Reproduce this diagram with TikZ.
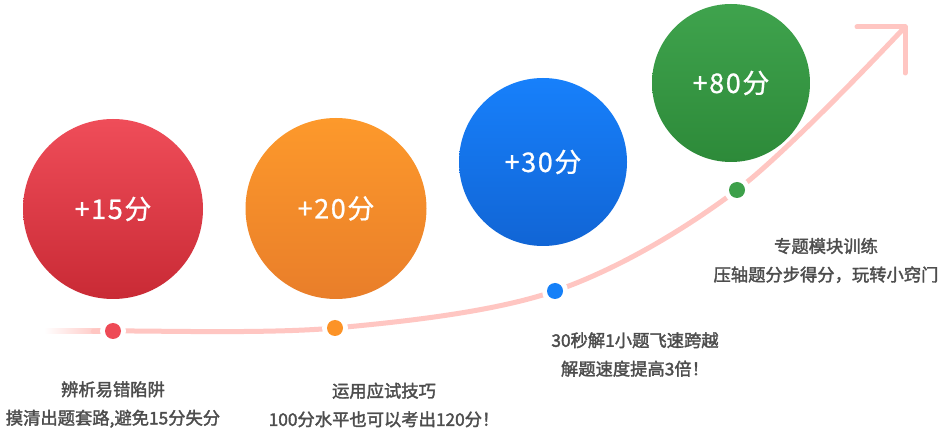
\documentclass[tikz,border=0pt]{standalone}
\usepackage{fontspec}
\setmainfont{Noto Sans CJK SC}
\newfontfamily\lblfont[FakeBold=2]{Noto Sans CJK SC}
\newfontfamily\ballfont[FakeBold=0.8, LetterSpace=6]{Noto Sans CJK SC}
\usetikzlibrary{calc}
\definecolor{pinkline}{HTML}{FFC6C2}
\definecolor{txtgray}{HTML}{4D4D4D}
\definecolor{redtop}{HTML}{EF4D59}
\definecolor{redbot}{HTML}{C92A35}
\definecolor{orgtop}{HTML}{FD992B}
\definecolor{orgbot}{HTML}{E97E2A}
\definecolor{blutop}{HTML}{1780FB}
\definecolor{blubot}{HTML}{1165D5}
\definecolor{grntop}{HTML}{3FA34D}
\definecolor{grnmid}{HTML}{4CA95B}
\definecolor{grnbot}{HTML}{2D8A39}
\definecolor{reddot}{HTML}{EE4A56}
\definecolor{orgdot}{HTML}{FC9327}
\definecolor{bludot}{HTML}{1580F8}
\definecolor{grndot}{HTML}{3DA04A}
\tikzset{
  ball/.style={circle, inner sep=0pt, text=white, font=\ballfont\fontsize{27}{30}\selectfont},
  halo/.style={circle, fill=white, minimum size=26pt, inner sep=0pt},
  dotmark/.style={circle, fill=#1, minimum size=16pt, inner sep=0pt},
  lbl/.style={text=txtgray, font=\lblfont\fontsize{17.3}{28.5}\selectfont, align=center},
  trail/.style={draw=pinkline, line width=5pt, line cap=round, line join=round}
}
\begin{document}
\begin{tikzpicture}[x=1pt,y=-1pt]
\useasboundingbox[fill=white] (0,0) rectangle (945,435);
% curve
\coordinate (s0) at (100,331.4);
\coordinate (p1) at (113,331);
\coordinate (p2) at (335,328);
\coordinate (p3) at (555,291);
\coordinate (p4) at (737,190);
\coordinate (tip) at (905,27);
\coordinate (armL) at (857,27);
\coordinate (armD) at (905,73);
\shade[left color=white, right color=pinkline] (44,328.9) rectangle (101,333.9);
\draw[trail] plot[smooth, tension=0.55] coordinates {(s0) (p1) (p2) (p3) (p4) (tip)};
\draw[trail] (armL) -- (tip) -- (armD);
% dots
\foreach \p/\c in {p1/reddot,p2/orgdot,p3/bludot,p4/grndot}{
  \node[halo] at (\p) {};
  \node[dotmark=\c] (d\p) at (\p) {};
}
% balls
\node[ball, minimum size=180pt, top color=redtop, bottom color=redbot] (b1) at (113,209) {+15分};
\node[ball, minimum size=181pt, top color=orgtop, bottom color=orgbot] (b2) at (336,208.5) {+20分};
\node[ball, minimum size=168pt, top color=blutop, bottom color=blubot] (b3) at (543,162) {+30分};
\node[ball, minimum size=158pt, top color=grntop, middle color=grnmid, bottom color=grnbot] (b4) at (731,83) {+80分};
% labels
\node[lbl] (l1) at (113,404.5) {辨析易错陷阱\\摸清出题套路,避免15分失分};
\node[lbl] (l2) at (384,405) {运用应试技巧\\100分水平也可以考出120分！};
\node[lbl] (l3) at (635,354.5) {30秒解1小题飞速跨越\\解题速度提高3倍！};
\node[lbl] (l4) at (826,260.5) {专题模块训练\\压轴题分步得分，玩转小窍门};
\end{tikzpicture}
\end{document}
